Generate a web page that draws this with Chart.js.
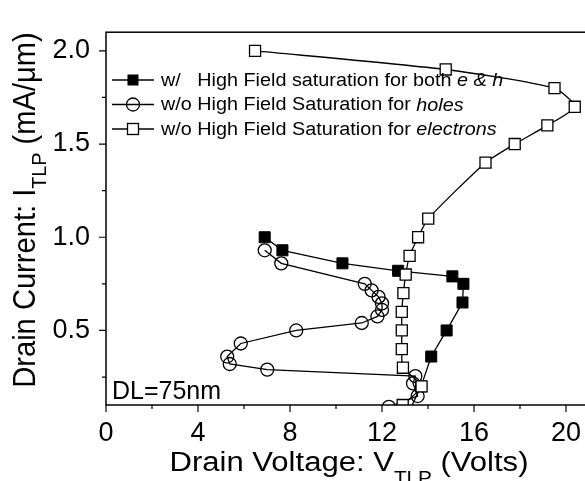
<!DOCTYPE html>
<html>
<head>
<meta charset="utf-8">
<script src="https://cdn.jsdelivr.net/npm/chart.js@4/dist/chart.umd.min.js"></script>
<style>
  html, body { margin: 0; padding: 0; background: #fff; overflow: hidden; }
  #contenedor { width: 600px; height: 481px; }
</style>
</head>
<body>
<div id="contenedor"><canvas id="grafica"></canvas></div>
<script>
// Fuente parecida a Arial
const FUENTE = '"Liberation Sans", Arial, sans-serif';

// Marcas de los ejes
const ticksX = [0, 4, 8, 12, 16, 20];
const ticksMenoresX = [2, 6, 10, 14, 18];
const ticksY = [0.5, 1.0, 1.5, 2.0];
const ticksMenoresY = [0.25, 0.75, 1.25, 1.75];

// w/ High Field saturation for both e & h (cuadrados negros)
const ambosX = [6.9, 7.67, 10.28, 12.7, 15.06, 15.54, 15.5, 14.81, 14.14, 13.7, 13.0];
const ambosY = [1.0, 0.93, 0.86, 0.82, 0.79, 0.75, 0.65, 0.50, 0.36, 0.20, 0.02];

// w/o High Field Saturation for holes (circulos)
const huecosX = [6.9, 7.62, 11.25, 11.55, 11.85, 12.0, 12.0, 11.8, 11.12, 8.27, 5.86, 5.27, 5.38, 7.01, 13.45, 13.35, 13.55, 12.3];
const huecosY = [0.93, 0.86, 0.75, 0.715, 0.68, 0.645, 0.61, 0.575, 0.54, 0.50, 0.43, 0.36, 0.32, 0.29, 0.255, 0.216, 0.148, 0.09];

// w/o High Field Saturation for electrons (cuadrados abiertos)
const electronesX = [6.48, 14.77, 19.5, 20.38, 19.19, 17.77, 16.5, 14.01, 13.57, 13.2, 13.03, 12.93, 12.86, 12.86, 12.86, 12.91, 13.72, 12.9];
const electronesY = [2.0, 1.9, 1.8, 1.7, 1.6, 1.5, 1.4, 1.1, 1.0, 0.9, 0.8, 0.7, 0.6, 0.5, 0.4, 0.3, 0.2, 0.1];

// Leyenda: trozos de texto (normal / cursiva)
const leyenda = [
    [['w/   High Field saturation for both ', false], ['e & h', true]],
    [['w/o High Field Saturation for ', false], ['holes', true]],
    [['w/o High Field Saturation for ', false], ['electrons', true]]
];

function puntos(xs, ys) {
    return xs.map((x, i) => ({ x: x, y: ys[i] }));
}

// Dibuja texto con trozos de distinto estilo, devuelve el ancho
function textoMixto(ctx, trozos, x, y, medir) {
    let ancho = 0;
    trozos.forEach(t => {
        ctx.font = t.f;
        if (!medir) ctx.fillText(t.t, x + ancho, y + (t.dy || 0));
        ancho += ctx.measureText(t.t).width;
    });
    return ancho;
}

function marcador(ctx, tipo, x, y) {
    ctx.lineWidth = 1.3;
    ctx.strokeStyle = '#000';
    if (tipo === 'lleno') {
        ctx.fillStyle = '#000';
        ctx.fillRect(x - 5.5, y - 5.5, 11, 11);
    } else if (tipo === 'circulo') {
        ctx.beginPath();
        ctx.arc(x, y, 6.5, 0, Math.PI * 2);
        ctx.stroke();
    } else {
        ctx.fillStyle = '#fff';
        ctx.fillRect(x - 5.5, y - 5.5, 11, 11);
        ctx.strokeRect(x - 5.5, y - 5.5, 11, 11);
    }
}

const decorado = {
    id: 'decorado',
    afterDraw(chart) {
        const ctx = chart.ctx;
        const a = chart.chartArea;
        const sx = chart.scales.x;
        const sy = chart.scales.y;
        ctx.save();

        // marco
        ctx.strokeStyle = '#000';
        ctx.lineWidth = 1.5;
        ctx.strokeRect(a.left, a.top, a.right - a.left, a.bottom - a.top);

        // marcas mayores y menores hacia fuera
        ctx.lineWidth = 1.2;
        ctx.beginPath();
        ticksX.forEach(v => { const p = sx.getPixelForValue(v); ctx.moveTo(p, a.bottom); ctx.lineTo(p, a.bottom + 7); });
        ticksMenoresX.forEach(v => { const p = sx.getPixelForValue(v); ctx.moveTo(p, a.bottom); ctx.lineTo(p, a.bottom + 4); });
        ticksY.forEach(v => { const p = sy.getPixelForValue(v); ctx.moveTo(a.left, p); ctx.lineTo(a.left - 7, p); });
        ticksMenoresY.forEach(v => { const p = sy.getPixelForValue(v); ctx.moveTo(a.left, p); ctx.lineTo(a.left - 4, p); });
        ctx.stroke();

        ctx.fillStyle = '#000';
        ctx.textBaseline = 'alphabetic';
        ctx.textAlign = 'left';

        // titulo eje x con subindice (texto algo ensanchado como en la original)
        const tx = [
            { t: 'Drain Voltage: V', f: '27px ' + FUENTE },
            { t: 'TLP', f: '18px ' + FUENTE, dy: 13 },
            { t: ' (Volts)', f: '27px ' + FUENTE }
        ];
        let w = textoMixto(ctx, tx, 0, 0, true);
        ctx.save();
        ctx.translate(349, 471);
        ctx.scale(1.15, 1);
        textoMixto(ctx, tx, -w / 2, 0, false);
        ctx.restore();

        // titulo eje y girado
        const ty = [
            { t: 'Drain Current: I', f: '28px ' + FUENTE },
            { t: 'TLP', f: '19px ' + FUENTE, dy: 10 },
            { t: ' (mA/\u03BCm)', f: '28px ' + FUENTE }
        ];
        ctx.save();
        ctx.translate(35, 210);
        ctx.rotate(-Math.PI / 2);
        ctx.scale(1.04, 1.1);
        w = textoMixto(ctx, ty, 0, 0, true);
        textoMixto(ctx, ty, -w / 2, 0, false);
        ctx.restore();

        // etiqueta DL
        ctx.font = '25px ' + FUENTE;
        ctx.fillText('DL=75nm', 112, 399);

        // leyenda
        const tipos = ['lleno', 'circulo', 'abierto'];
        const filas = [80, 104.5, 129];
        leyenda.forEach((fila, i) => {
            const y = filas[i];
            ctx.strokeStyle = '#000';
            ctx.lineWidth = 1.3;
            ctx.beginPath();
            ctx.moveTo(112, y);
            ctx.lineTo(154, y);
            ctx.stroke();
            marcador(ctx, tipos[i], 133, y);
            ctx.fillStyle = '#000';
            ctx.textBaseline = 'middle';
            const trozos = fila.map(t => ({ t: t[0], f: (t[1] ? 'italic ' : '') + '18px ' + FUENTE }));
            ctx.save();
            ctx.translate(161, y + 1);
            ctx.scale(1.1, 1);
            textoMixto(ctx, trozos, 0, 0, false);
            ctx.restore();
        });

        ctx.restore();
    }
};

const ctx = document.getElementById('grafica').getContext('2d');
const myChart = new Chart(ctx, {
    type: 'scatter',
    data: {
        datasets: [
            {
                label: 'w/o High Field Saturation for electrons',
                data: puntos(electronesX, electronesY),
                showLine: true,
                tension: 0.2,
                borderColor: '#000',
                borderWidth: 1.3,
                pointStyle: 'rect',
                pointRadius: 7.8,
                pointBackgroundColor: '#fff',
                pointBorderColor: '#000',
                pointBorderWidth: 1.3,
                order: 0
            },
            {
                label: 'w/ High Field saturation for both e & h',
                data: puntos(ambosX, ambosY),
                showLine: true,
                borderColor: '#000',
                borderWidth: 1.3,
                pointStyle: 'rect',
                pointRadius: 7.8,
                pointBackgroundColor: '#000',
                pointBorderColor: '#000',
                pointBorderWidth: 1,
                order: 2
            },
            {
                label: 'w/o High Field Saturation for holes',
                data: puntos(huecosX, huecosY),
                showLine: true,
                borderColor: '#000',
                borderWidth: 1.3,
                pointStyle: 'circle',
                pointRadius: 6.5,
                pointBackgroundColor: 'rgba(0,0,0,0)',
                pointBorderColor: '#000',
                pointBorderWidth: 1.3,
                order: 1
            }
        ]
    },
    options: {
        responsive: true,
        maintainAspectRatio: false,
        animation: false,
        events: [],
        layout: { padding: { top: 11, right: 11, left: 0, bottom: 0 } },
        plugins: {
            legend: { display: false },
            tooltip: { enabled: false }
        },
        scales: {
            x: {
                type: 'linear',
                min: 0,
                max: 21,
                border: { display: false },
                grid: { display: false, drawTicks: false },
                afterFit: s => { s.height = 76; },
                afterBuildTicks: s => { s.ticks = ticksX.map(v => ({ value: v })); },
                ticks: {
                    padding: 12,
                    color: '#000',
                    font: { family: FUENTE, size: 27 },
                    callback: v => String(v)
                }
            },
            y: {
                type: 'linear',
                min: 0.1,
                max: 2.1,
                border: { display: false },
                grid: { display: false, drawTicks: false },
                afterFit: s => { s.width = 106; },
                afterBuildTicks: s => { s.ticks = ticksY.map(v => ({ value: v })); },
                ticks: {
                    padding: 16,
                    color: '#000',
                    font: { family: FUENTE, size: 27 },
                    callback: v => Number(v).toFixed(1)
                }
            }
        }
    },
    plugins: [decorado]
});
</script>
</body>
</html>
